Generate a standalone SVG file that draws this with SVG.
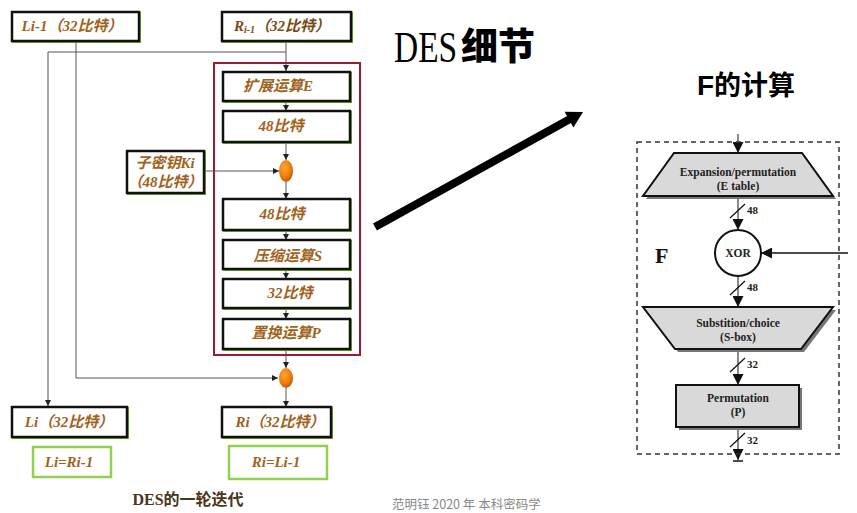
<svg xmlns="http://www.w3.org/2000/svg" width="857" height="513" viewBox="0 0 857 513">
<defs>
<style>
.bx{fill:#fff;stroke:#111;stroke-width:2.5}
.sh{fill:none;stroke:#7ab51d;stroke-width:2}
.gb{fill:#fff;stroke:#92d050;stroke-width:2.5}
.lt{font-family:"Liberation Serif","Noto Sans CJK SC",serif;font-size:15px;font-weight:bold;font-style:italic;fill:#a0621c;text-anchor:middle}
.ln{fill:none;stroke:#555;stroke-width:1}
.fl{fill:none;stroke:#8a8a8a;stroke-width:2}
.ft{font-family:"Liberation Serif",serif;font-size:11.5px;font-weight:bold;fill:#222;text-anchor:middle}
.fn{font-family:"Liberation Serif",serif;font-size:11px;font-weight:bold;fill:#222}
.tz{fill:#d9d9d9;stroke:#111;stroke-width:2}
.tzs{fill:#777}
</style>
<marker id="a" viewBox="0 0 8 8" refX="8" refY="4" markerWidth="6" markerHeight="6" markerUnits="userSpaceOnUse" orient="auto"><path d="M0,0L8,4L0,8z" fill="#222"/></marker>
<marker id="b" viewBox="0 0 10 10" refX="10" refY="5" markerWidth="11" markerHeight="11" markerUnits="userSpaceOnUse" orient="auto"><path d="M0,0L10,5L0,10z" fill="#111"/></marker>
<radialGradient id="og" cx="0.4" cy="0.35" r="0.7"><stop offset="0" stop-color="#ffa733"/><stop offset="0.6" stop-color="#ef7d0a"/><stop offset="1" stop-color="#b85500"/></radialGradient>
</defs>

<g id="connectors">
<path class="ln" d="M286,41V71" marker-end="url(#a)"/>
<path class="ln" d="M286,52H48V406" marker-end="url(#a)"/>
<path class="ln" d="M286,101V111" marker-end="url(#a)"/>
<path class="ln" d="M286,142V160" marker-end="url(#a)"/>
<path class="ln" d="M204,171H279" marker-end="url(#a)"/>
<path class="ln" d="M286,182V199" marker-end="url(#a)"/>
<path class="ln" d="M286,230V240" marker-end="url(#a)"/>
<path class="ln" d="M286,269V279" marker-end="url(#a)"/>
<path class="ln" d="M286,308V319" marker-end="url(#a)"/>
<path class="ln" d="M286,349V368" marker-end="url(#a)"/>
<path class="ln" d="M76,41V378H278" marker-end="url(#a)"/>
<path class="ln" d="M286,388V407" marker-end="url(#a)"/>
<line x1="375" y1="227" x2="570" y2="119" stroke="#000" stroke-width="8"/>
<polygon points="583,112 573.4,127.6 564.6,111.8" fill="#000"/>
<path class="fl" d="M738,134V153" marker-end="url(#b)"/>
<path class="fl" d="M738,197V230" marker-end="url(#b)"/>
<path d="M848,253H761" fill="none" stroke="#111" stroke-width="1.5" marker-end="url(#b)"/>
<path class="fl" d="M738,276V307" marker-end="url(#b)"/>
<path class="fl" d="M738,350V385" marker-end="url(#b)"/>
<path class="fl" d="M738,428V460" marker-end="url(#b)"/>
<line x1="733" y1="461" x2="743" y2="461" stroke="#111" stroke-width="1.5"/>
<line x1="730" y1="218" x2="745" y2="204" stroke="#111" stroke-width="1.2"/>
<line x1="730" y1="295" x2="745" y2="281" stroke="#111" stroke-width="1.2"/>
<line x1="730" y1="372" x2="745" y2="358" stroke="#111" stroke-width="1.2"/>
<line x1="730" y1="447" x2="745" y2="433" stroke="#111" stroke-width="1.2"/>
</g>

<g id="Li-1">
<rect class="sh" x="13" y="13" width="127" height="29"/>
<rect class="bx" x="12" y="12" width="127" height="29"/>
<text class="lt" x="72" y="31">Li-1（32比特）</text>
</g>
<g id="Ri-1">
<rect class="sh" x="223" y="13" width="129" height="29"/>
<rect class="bx" x="222" y="12" width="129" height="29"/>
<text class="lt" x="282" y="31" style="fill:#7a4a18">R<tspan font-size="10" dy="2">i-1</tspan><tspan dy="-2">（32比特）</tspan></text>
</g>
<g id="F-function">
<rect x="214" y="63" width="146" height="292" fill="none" stroke="#9b1b30" stroke-width="2"/>
</g>
<g id="expand-E">
<rect class="sh" x="224" y="73" width="127" height="29"/>
<rect class="bx" x="223" y="72" width="127" height="29"/>
<text class="lt" x="278" y="91">扩展运算E</text>
</g>
<g id="b48-1">
<rect class="sh" x="224" y="112" width="127" height="31"/>
<rect class="bx" x="223" y="111" width="127" height="31"/>
<text class="lt" x="281" y="131">48比特</text>
</g>
<g id="xor1">
<ellipse cx="286" cy="171" rx="7" ry="11" fill="url(#og)"/>
</g>
<g id="key">
<rect class="sh" x="128" y="152" width="77" height="42"/>
<rect class="bx" x="127" y="151" width="77" height="42"/>
<text class="lt" x="165" y="168">子密钥Ki</text>
<text class="lt" x="165" y="187">（48比特）</text>
</g>
<g id="b48-2">
<rect class="sh" x="224" y="200" width="127" height="31"/>
<rect class="bx" x="223" y="199" width="127" height="31"/>
<text class="lt" x="282" y="219">48比特</text>
</g>
<g id="compress-S">
<rect class="sh" x="224" y="241" width="127" height="29"/>
<rect class="bx" x="223" y="240" width="127" height="29"/>
<text class="lt" x="288" y="261">压缩运算S</text>
</g>
<g id="b32">
<rect class="sh" x="224" y="280" width="127" height="29"/>
<rect class="bx" x="223" y="279" width="127" height="29"/>
<text class="lt" x="290" y="298">32比特</text>
</g>
<g id="perm-P">
<rect class="sh" x="224" y="320" width="127" height="30"/>
<rect class="bx" x="223" y="319" width="127" height="30"/>
<text class="lt" x="286" y="338">置换运算P</text>
</g>
<g id="xor2">
<ellipse cx="286" cy="378" rx="7" ry="10" fill="url(#og)"/>
</g>
<g id="Li">
<rect class="sh" x="13" y="408" width="115" height="30"/>
<rect class="bx" x="12" y="407" width="115" height="30"/>
<text class="lt" x="69" y="427">Li（32比特）</text>
</g>
<g id="Ri">
<rect class="sh" x="223" y="408" width="109" height="30"/>
<rect class="bx" x="222" y="407" width="109" height="30"/>
<text class="lt" x="280" y="427">Ri（32比特）</text>
</g>
<g id="eqL">
<rect class="gb" x="33" y="447" width="78" height="30"/>
<text class="lt" x="69" y="467">Li=Ri-1</text>
</g>
<g id="eqR">
<rect class="gb" x="229" y="446" width="98" height="33"/>
<text class="lt" x="276" y="467">Ri=Li-1</text>
</g>
<text x="188" y="505" font-family="Liberation Serif,'Noto Sans CJK SC',serif" font-size="16" font-weight="bold" fill="#4a3520" text-anchor="middle">DES的一轮迭代</text>

<g id="title">
<text transform="translate(394,62) scale(0.76,1)" x="0" y="0" font-family="Liberation Serif,serif" font-size="44" fill="#000">DES</text>
<text x="461" y="60" font-family="'Noto Sans CJK SC',sans-serif" font-size="37" font-weight="900" fill="#000">细节</text>
<text x="697" y="95" font-family="'Noto Sans CJK SC',sans-serif" font-size="27" font-weight="bold" fill="#000"><tspan font-family="Liberation Sans,sans-serif" font-size="28">F</tspan>的计算</text>
</g>

<g id="F-box">
<rect x="637" y="142" width="202" height="312" fill="none" stroke="#333" stroke-width="1.5" stroke-dasharray="5,4"/>
<text x="655" y="263" font-family="Liberation Serif,serif" font-size="22" font-weight="bold" fill="#111">F</text>
</g>
<g id="expansion">
<polygon class="tzs" points="677,156 805,156 836,199 646,199"/>
<polygon class="tz" points="674,153 802,153 833,196 643,196"/>
<text class="ft" x="738" y="176">Expansion/permutation</text>
<text class="ft" x="738" y="189.5">(E table)</text>
</g>
<g id="xor">
<circle cx="738" cy="253" r="23" fill="#fff" stroke="#111" stroke-width="2"/>
<text class="ft" x="738" y="257">XOR</text>
</g>
<g id="sbox">
<polygon class="tzs" points="646,310 836,310 804,352 678,352"/>
<polygon class="tz" points="643,307 833,307 801,349 675,349"/>
<text class="ft" x="738" y="327">Substition/choice</text>
<text class="ft" x="738" y="341">(S-box)</text>
</g>
<g id="perm">
<rect x="679" y="388" width="123" height="42" fill="#777"/>
<rect x="676" y="385" width="123" height="42" fill="#d9d9d9" stroke="#111" stroke-width="2"/>
<text class="ft" x="738" y="402">Permutation</text>
<text class="ft" x="738" y="416">(P)</text>
</g>
<g id="labels">
<text class="fn" x="747" y="214">48</text>
<text class="fn" x="747" y="291">48</text>
<text class="fn" x="747" y="368">32</text>
<text class="fn" x="747" y="444">32</text>
</g>
<text x="392" y="509" font-family="'Noto Sans CJK SC',sans-serif" font-size="12.5" fill="#888">范明钰 2020 年 本科密码学</text>
</svg>
